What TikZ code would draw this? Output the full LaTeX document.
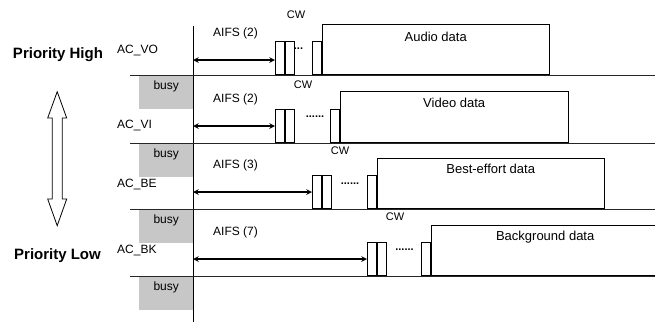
\documentclass[tikz,border=0pt]{standalone}
\usepackage{fontspec}
\setmainfont{Liberation Sans}
\usetikzlibrary{positioning}

\begin{document}
\begin{tikzpicture}[x=1pt, y=-1pt, >=stealth,
    lbl/.style={font=\fontsize{12}{14}\selectfont, inner sep=0pt},
    cw/.style={font=\fontsize{11}{13}\selectfont, inner sep=0pt},
    prio/.style={font=\fontsize{15}{18}\selectfont\bfseries, inner sep=0pt},
    busy/.style={fill=black!22, minimum width=54pt, inner sep=0pt, text height=14pt, text depth=20pt, anchor=north west, font=\fontsize{12}{14}\selectfont},
    slot/.style={draw, line width=0.8pt, minimum width=9pt, minimum height=33.5pt, inner sep=0pt},
    databox/.style={draw, line width=0.8pt, inner sep=0pt, anchor=south west, font=\fontsize{13}{15}\selectfont},
    dots/.style={font=\fontsize{11}{13}\selectfont\bfseries, inner sep=0pt},
    aifs/.style={<->, line width=1.5pt},
    row/.style={line width=1pt, black!85}]
    \clip (0,0) rectangle (655,322);

    % busy medium
    \node (busy1) [busy] at (139,75) {busy};
    \node (busy2) [busy] at (139,143) {busy};
    \node (busy3) [busy] at (139,209) {busy};
    \node (busy4) [busy] at (139,276) {busy};

    % time axis and rows
    \draw[line width=0.9pt] (193,26) -- (193,322);
    \foreach \y in {75,143,209,276}
        \draw[row] (130,\y) -- (655,\y);

    % priority
    \node (high) [prio] at (58,55) {Priority High};
    \node (low) [prio] at (57.5,256) {Priority Low};
    \draw[line width=0.8pt] (57.2,91.7) -- (66.7,118) -- (62.2,118) -- (62.2,199) -- (66.7,199) -- (57.2,225.7)
        -- (47.7,199) -- (52.2,199) -- (52.2,118) -- (47.7,118) -- cycle;

    % AC_VO
    \node (vo) [lbl, anchor=west] at (117,50) {AC\_VO};
    \node (vo1) [slot, anchor=south west] at (275,75) {};
    \node (vo2) [slot, right=0pt of vo1] {};
    \node (vo3) [slot, anchor=south west] at (312,75) {};
    \node (vod) [databox, minimum width=227pt, text height=17pt, text depth=33pt] at (vo3.south east) {Audio data};
    \node (vodots) [dots] at (298.5,49) {...};
    \node (voaifs) [lbl] at (235.5,33) {AIFS (2)};
    \node (vocw) [cw] at (296,15) {CW};
    \coordinate (vos) at (193,60);
    \draw[aifs] (vos) -- (vos -| vo1.west);

    % AC_VI
    \node (vi) [lbl, anchor=west] at (117,125) {AC\_VI};
    \node (vi1) [slot, anchor=south west] at (275,143) {};
    \node (vi2) [slot, right=0pt of vi1] {};
    \node (vi3) [slot, anchor=south west] at (330,143) {};
    \node (vid) [databox, minimum width=228pt, text height=16pt, text depth=35pt] at (vi3.south east) {Video data};
    \node (vidots) [dots] at (315,117) {......};
    \node (viaifs) [lbl] at (235.5,99) {AIFS (2)};
    \node (vicw) [cw] at (303,85) {CW};
    \coordinate (vis) at (193,126);
    \draw[aifs] (vis) -- (vis -| vi1.west);

    % AC_BE
    \node (be) [lbl, anchor=west] at (117,184) {AC\_BE};
    \node (be1) [slot, anchor=south west] at (312,209) {};
    \node (be2) [slot, right=0pt of be1] {};
    \node (be3) [slot, anchor=south west] at (367,209) {};
    \node (bed) [databox, minimum width=227pt, text height=15pt, text depth=35pt] at (be3.south east) {Best-effort data};
    \node (bedots) [dots] at (350,184) {......};
    \node (beaifs) [lbl] at (235.5,165) {AIFS (3)};
    \node (becw) [cw] at (340,151) {CW};
    \coordinate (bes) at (193,192);
    \draw[aifs] (bes) -- (bes -| be1.west);

    % AC_BK
    \node (bk) [lbl, anchor=west] at (117,250) {AC\_BK};
    \node (bk1) [slot, anchor=south west] at (367,276) {};
    \node (bk2) [slot, right=0pt of bk1] {};
    \node (bk3) [slot, anchor=south west] at (421,276) {};
    \node (bkd) [databox, minimum width=228pt, text height=15pt, text depth=35pt] at (bk3.south east) {Background data};
    \node (bkdots) [dots] at (404.5,250) {......};
    \node (bkaifs) [lbl] at (235.5,232) {AIFS (7)};
    \node (bkcw) [cw] at (395,217) {CW};
    \coordinate (bks) at (193,259);
    \draw[aifs] (bks) -- (bks -| bk1.west);
\end{tikzpicture}
\end{document}
